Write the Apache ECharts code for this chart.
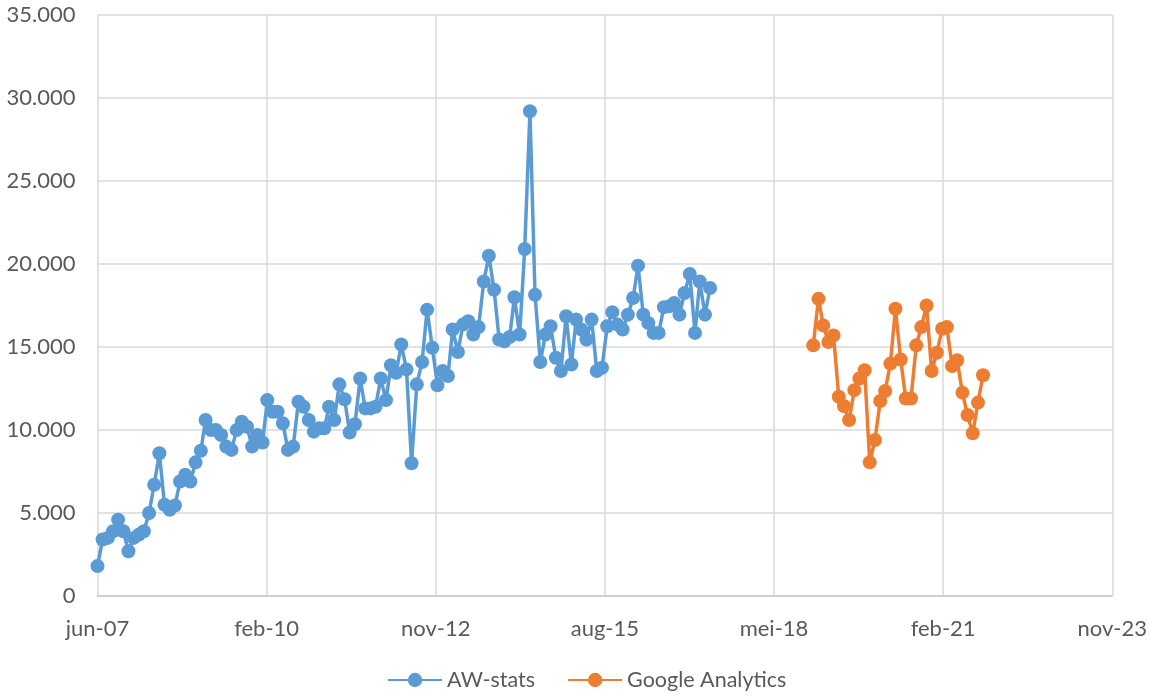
<!DOCTYPE html>
<html>
<head>
<meta charset="utf-8">
<script src="https://cdn.jsdelivr.net/npm/echarts@6/dist/echarts.min.js"></script>
<style>
html, body { margin: 0; padding: 0; background: #fff; }
#main { width: 1150px; height: 698px; }
</style>
</head>
<body>
<div id="main"></div>
<script>
// maandelijkse bezoekers, AW-stats jun-07 t/m mei-17, Google Analytics jan-19 t/m okt-21
var awStart = [2007, 6];
var awValues = [1800, 3400, 3500, 3900, 4600, 3900, 2700, 3500, 3700, 3900,
    5000, 6700, 8600, 5500, 5200, 5450, 6900, 7300, 6900, 8050,
    8750, 10600, 10000, 10000, 9700, 9000, 8800, 10000, 10500, 10200,
    9000, 9700, 9250, 11800, 11100, 11100, 10400, 8800, 9000, 11700,
    11400, 10600, 9900, 10100, 10100, 11400, 10600, 12750, 11850, 9850,
    10350, 13100, 11300, 11300, 11400, 13100, 11800, 13900, 13450, 15150,
    13650, 8000, 12750, 14100, 17250, 14950, 12700, 13550, 13250, 16050,
    14700, 16350, 16550, 15750, 16200, 18950, 20500, 18450, 15450, 15350,
    15600, 18000, 15750, 20900, 29200, 18150, 14100, 15750, 16250, 14350,
    13550, 16850, 13950, 16650, 16050, 15450, 16650, 13550, 13750, 16250,
    17100, 16350, 16050, 16950, 17950, 19900, 16950, 16450, 15850, 15850,
    17400, 17450, 17650, 16950, 18250, 19400, 15850, 18950, 16950, 18550];

var gaStart = [2019, 1];
var gaValues = [15100, 17900, 16300, 15300, 15700, 12000, 11450, 10600, 12400, 13100,
    13600, 8050, 9400, 11750, 12350, 14000, 17300, 14250, 11900, 11900,
    15100, 16200, 17500, 13550, 14650, 16100, 16200, 13850, 14200, 12250,
    10900, 9800, 11650, 13300];

var xTickLabels = ['jun-07', 'feb-10', 'nov-12', 'aug-15', 'mei-18', 'feb-21', 'nov-23'];
var yTickLabels = ['0', '5.000', '10.000', '15.000', '20.000', '25.000', '30.000', '35.000'];

// x-as in dagen vanaf 1 juni 2007 (zoals de datum-as in Excel)
var base = Date.UTC(2007, 5, 1);
function days(y, m) {
    return (Date.UTC(y, m - 1, 1) - base) / 86400000;
}
function toPoints(start, values) {
    return values.map(function (v, i) {
        return [days(start[0], start[1] + i), v];
    });
}

var textColor = '#595959';
var font = 'Lato, "Liberation Sans", sans-serif';

var myChart = echarts.init(document.getElementById('main'));
option = {
    animation: false,
    grid: {
        left: 97.5,
        right: 37,
        top: 15,
        bottom: 102
    },
    legend: {
        top: 664,
        left: 382,
        itemWidth: 54,
        itemHeight: 18,
        itemGap: 32,
        textStyle: { color: textColor, fontSize: 21.5, fontFamily: font },
        data: ['AW-stats', 'Google Analytics']
    },
    xAxis: {
        type: 'value',
        min: 0,
        max: 6000,
        interval: 1000,
        axisLine: { lineStyle: { color: '#c8c8c8', width: 1.5 } },
        axisTick: { show: false },
        splitLine: { lineStyle: { color: '#d9d9d9', width: 1.5 } },
        axisLabel: {
            margin: 22,
            color: textColor,
            fontSize: 22,
            fontFamily: font,
            formatter: function (v) { return xTickLabels[Math.round(v / 1000)]; }
        }
    },
    yAxis: {
        type: 'value',
        min: 0,
        max: 35000,
        interval: 5000,
        axisLine: { show: false },
        axisTick: { show: false },
        splitLine: { lineStyle: { color: '#d9d9d9', width: 1.5 } },
        axisLabel: {
            margin: 22,
            color: textColor,
            fontSize: 22,
            fontFamily: font,
            formatter: function (v) { return yTickLabels[Math.round(v / 5000)]; }
        }
    },
    series: [
        {
            name: 'AW-stats',
            type: 'line',
            symbol: 'circle',
            symbolSize: 14,
            showAllSymbol: true,
            color: '#5b9bd5',
            lineStyle: { width: 3.5 },
            data: toPoints(awStart, awValues)
        },
        {
            name: 'Google Analytics',
            type: 'line',
            symbol: 'circle',
            symbolSize: 14,
            showAllSymbol: true,
            color: '#ed7d31',
            lineStyle: { width: 3.5 },
            data: toPoints(gaStart, gaValues)
        }
    ]
};
myChart.setOption(option);
</script>
</body>
</html>
